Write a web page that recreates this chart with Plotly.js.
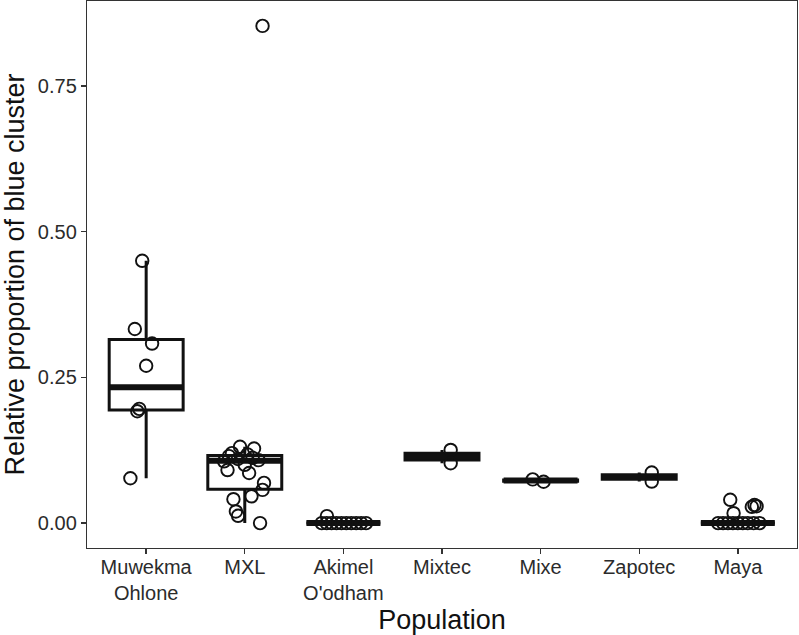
<!DOCTYPE html>
<html>
<head>
<meta charset="utf-8">
<script src="https://cdn.plot.ly/plotly-3.0.1.min.js"></script>
<style>
  html, body { margin: 0; padding: 0; background: #fff; }
  #chart { width: 799px; height: 635px; }
</style>
</head>
<body>
<div id="chart"></div>
<script>
// Categories (x positions 1..7) and tick labels
const populations = ["Muwekma<br>Ohlone", "MXL", "Akimel<br>O'odham", "Mixtec", "Mixe", "Zapotec", "Maya"];

// Box statistics
const q1Vals     = [0.194, 0.058, 0, 0.1084, 0.072, 0.0752, 0];
const medianVals = [0.233, 0.107, 0, 0.1141, 0.073, 0.0790, 0];
const q3Vals     = [0.315, 0.116, 0, 0.1198, 0.074, 0.0828, 0];
const lowerVals  = [0.077, 0.000, 0, 0.1027, 0.071, 0.0713, 0];
const upperVals  = [0.450, 0.131, 0, 0.1255, 0.075, 0.0867, 0];

// Individual (jittered) points: values and horizontal jitter offsets
const muwekmaY   = [0.450, 0.333, 0.308, 0.270, 0.196, 0.192, 0.077];
const muwekmaJit = [-0.04, -0.115, 0.06, 0.00, -0.07, -0.09, -0.16];

const mxlY   = [0.853, 0.131, 0.128, 0.120, 0.118, 0.115, 0.112, 0.110, 0.108, 0.106, 0.100,
                0.091, 0.086, 0.069, 0.057, 0.046, 0.041, 0.020, 0.0125, 0.000];
const mxlJit = [0.18, -0.048, 0.094, -0.13, 0.027, -0.16, 0.08, -0.07, 0.14, -0.21, 0.00,
                -0.175, 0.044, 0.195, 0.18, 0.068, -0.115, -0.09, -0.068, 0.155];

const akimelY   = [0.012, 0, 0, 0, 0, 0, 0, 0, 0, 0, 0];
const akimelJit = [-0.167, -0.22, -0.17, -0.12, -0.07, -0.02, 0.03, 0.08, 0.13, 0.18, 0.23];

const mixtecY   = [0.1255, 0.1027];
const mixtecJit = [0.088, 0.088];

const mixeY   = [0.075, 0.071];
const mixeJit = [-0.08, 0.03];

const zapotecY   = [0.0867, 0.0713];
const zapotecJit = [0.127, 0.127];

const mayaY   = [0.040, 0.017, 0.028, 0.031, 0.029, 0, 0, 0, 0, 0, 0, 0, 0, 0];
const mayaJit = [-0.077, -0.043, 0.142, 0.169, 0.19, -0.2, -0.15, -0.1, -0.05, 0.0, 0.05, 0.1, 0.16, 0.22];

const groupsY   = [muwekmaY, mxlY, akimelY, mixtecY, mixeY, zapotecY, mayaY];
const groupsJit = [muwekmaJit, mxlJit, akimelJit, mixtecJit, mixeJit, zapotecJit, mayaJit];

const positions = populations.map((_, i) => i + 1);
const ink = '#111';
const boxHalf = 0.375;

// Boxes
const boxTrace = {
  type: 'box',
  x: positions,
  q1: q1Vals,
  median: medianVals,
  q3: q3Vals,
  lowerfence: lowerVals,
  upperfence: upperVals,
  width: 0.75,
  whiskerwidth: 0,
  boxpoints: false,
  fillcolor: 'rgba(255,255,255,0)',
  line: { color: ink, width: 3 },
  hoverinfo: 'skip',
  showlegend: false
};

// Thick median lines (ggplot style)
const medX = [], medY = [];
positions.forEach((p, i) => {
  medX.push(p - boxHalf, p + boxHalf, null);
  medY.push(medianVals[i], medianVals[i], null);
});
const medianTrace = {
  type: 'scatter', mode: 'lines',
  x: medX, y: medY,
  line: { color: ink, width: 6 },
  hoverinfo: 'skip', showlegend: false
};

// Points
const ptX = [], ptY = [];
groupsY.forEach((ys, i) => {
  ys.forEach((v, j) => { ptX.push(positions[i] + groupsJit[i][j]); ptY.push(v); });
});
const pointTrace = {
  type: 'scatter', mode: 'markers',
  x: ptX, y: ptY,
  marker: { symbol: 'circle-open', size: 12.5, color: ink, line: { width: 1.9, color: ink } },
  hoverinfo: 'skip', showlegend: false
};

const fontFam = 'Liberation Sans, Arial, Helvetica, sans-serif';
const axisCommon = {
  showgrid: false, zeroline: false,
  showline: true, mirror: true, linecolor: '#333', linewidth: 1.2,
  ticks: 'outside', ticklen: 5, tickwidth: 1.4, tickcolor: '#333',
  tickfont: { family: fontFam, size: 20, color: '#2b2b2b' }
};

const layout = {
  width: 799, height: 635,
  margin: { l: 87, r: 2, t: 1, b: 87 },
  paper_bgcolor: '#fff', plot_bgcolor: '#fff',
  font: { family: fontFam, color: ink },
  showlegend: false,
  xaxis: Object.assign({}, axisCommon, {
    range: [0.4, 7.6],
    tickmode: 'array', tickvals: positions, ticktext: populations,
    ticklabelstandoff: -4,
    title: { text: 'Population', font: { family: fontFam, size: 27, color: ink }, standoff: 6 }
  }),
  yaxis: Object.assign({}, axisCommon, {
    range: [-0.0427, 0.8957],
    tickmode: 'array', tickvals: [0, 0.25, 0.5, 0.75], ticktext: ['0.00', '0.25', '0.50', '0.75'],
    title: { text: 'Relative proportion of blue cluster', font: { family: fontFam, size: 27, color: ink }, standoff: 6 }
  })
};

Plotly.newPlot('chart', [boxTrace, medianTrace, pointTrace], layout, { displayModeBar: false, staticPlot: true });
</script>
</body>
</html>
